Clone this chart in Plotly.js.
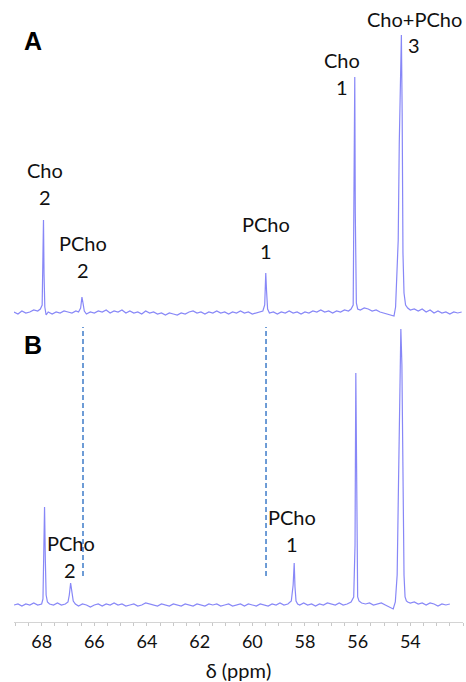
<!DOCTYPE html>
<html>
<head>
<meta charset="utf-8">
<script src="https://cdn.plot.ly/plotly-3.0.1.min.js"></script>
<style>html,body{margin:0;padding:0;background:#fff;}#chart{width:466px;height:682px;}</style>
</head>
<body>
<div id="chart"></div>
<script>
// Spectrum A (ppm, intensity)
var ppmA = [69.05,68.9,68.75,68.6,68.45,68.3,68.15,68.05,67.98,67.95,67.93,67.91,67.88,67.83,67.75,67.6,67.45,67.3,67.15,67.0,66.85,66.7,66.6,66.52,66.47,66.43,66.38,66.3,66.15,66.0,65.85,65.7,65.55,65.4,65.25,65.1,64.95,64.8,64.65,64.5,64.35,64.2,64.05,63.9,63.75,63.6,63.45,63.3,63.15,63.0,62.85,62.7,62.55,62.4,62.25,62.1,61.95,61.8,61.65,61.5,61.35,61.2,61.05,60.9,60.75,60.6,60.45,60.3,60.15,60.0,59.85,59.7,59.6,59.53,59.49,59.46,59.42,59.35,59.2,59.05,58.9,58.75,58.6,58.45,58.3,58.15,58.0,57.85,57.7,57.55,57.4,57.25,57.1,56.95,56.8,56.65,56.5,56.35,56.25,56.17,56.13,56.11,56.09,56.05,56.0,55.9,55.75,55.6,55.45,55.3,55.15,55.0,54.85,54.7,54.62,54.56,54.5,54.46,54.42,54.37,54.34,54.31,54.28,54.24,54.18,54.1,54.0,53.85,53.7,53.55,53.4,53.25,53.1,52.95,52.8,52.65,52.5,52.35,52.2,52.05];
var intA = [1,-1,2,0,1,3,2,4,8,60,93,40,6,-2,1,-1,1,0,2,1,0,2,1,5,16,10,2,-1,1,0,2,1,3,0,2,1,3,0,2,0,1,-1,2,0,1,-1,0,-2,0,-1,-2,0,-1,1,2,0,1,-1,1,0,2,0,1,-1,1,0,2,0,1,-1,0,1,2,8,40,22,4,0,1,-1,1,0,2,0,1,-1,1,0,2,1,3,1,2,0,2,1,3,2,4,8,120,236,100,10,4,3,5,4,2,3,1,0,-1,-2,-3,6,40,73,170,260,278,200,60,20,8,5,3,4,2,4,1,3,0,2,0,1,-1,1,0,1];

// Spectrum B (ppm, intensity)
var ppmB = [69.05,68.9,68.75,68.6,68.45,68.3,68.15,68.0,67.95,67.92,67.89,67.86,67.83,67.78,67.7,67.55,67.4,67.25,67.1,67.0,66.95,66.9,66.85,66.8,66.72,66.6,66.45,66.3,66.15,66.0,65.85,65.7,65.55,65.4,65.25,65.1,64.95,64.8,64.65,64.5,64.35,64.2,64.05,63.9,63.75,63.6,63.45,63.3,63.15,63.0,62.85,62.7,62.55,62.4,62.25,62.1,61.95,61.8,61.65,61.5,61.35,61.2,61.05,60.9,60.75,60.6,60.45,60.3,60.15,60.0,59.85,59.7,59.55,59.4,59.25,59.1,58.95,58.8,58.65,58.52,58.45,58.41,58.38,58.34,58.28,58.2,58.05,57.9,57.75,57.6,57.45,57.3,57.15,57.0,56.85,56.7,56.55,56.4,56.25,56.15,56.1,56.07,56.05,56.03,56.0,55.95,55.85,55.7,55.55,55.4,55.25,55.1,54.95,54.8,54.65,54.57,54.5,54.45,54.4,54.36,54.32,54.28,54.24,54.2,54.15,54.1,54.0,53.85,53.7,53.55,53.4,53.25,53.1,52.95,52.8,52.65,52.5,52.35,52.2,52.05];
var intB = [0,1,-1,1,0,2,0,1,6,60,98,45,10,3,1,0,2,0,1,3,10,22,14,4,1,-1,1,0,-2,0,1,-1,1,0,2,0,1,-1,0,1,-1,0,2,1,0,-1,1,0,-1,1,0,-1,1,0,-1,1,0,-1,1,0,1,-1,0,1,-1,0,1,-1,1,0,-1,1,0,-1,1,0,2,0,1,4,20,42,18,4,1,0,2,0,1,-1,1,0,2,1,0,2,0,1,3,8,60,232,150,40,8,4,2,1,2,0,1,2,0,-2,-4,3,30,120,230,276,240,120,30,8,4,3,2,3,1,2,0,2,1,-1,1,0,1];

var peakLabelsA = [
  {t:'Cho', x:67.87, y:143}, {t:'2', x:67.87, y:116},
  {t:'PCho', x:66.44, y:70}, {t:'2', x:66.44, y:43},
  {t:'PCho', x:59.48, y:89}, {t:'1', x:59.48, y:62},
  {t:'Cho', x:56.60, y:253}, {t:'1', x:56.60, y:226},
  {t:'Cho+PCho', x:53.84, y:294}, {t:'3', x:53.86, y:268}
];
var peakLabelsB = [
  {t:'PCho', x:66.88, y:62}, {t:'2', x:66.92, y:35},
  {t:'PCho', x:58.49, y:88}, {t:'1', x:58.49, y:61}
];
var dashPpm = [66.43, 59.48];
var tickVals = [68,66,64,62,60,58,56,54];
var tickText = ['68','66','64','62','60','58','56','54'];

var lineStyle = {color:'rgba(105,105,245,0.8)', width:1.2};
var traces = [
  {x:ppmA, y:intA, xaxis:'x', yaxis:'y', type:'scatter', mode:'lines', line:lineStyle, hoverinfo:'skip'},
  {x:ppmB, y:intB, xaxis:'x', yaxis:'y2', type:'scatter', mode:'lines', line:lineStyle, hoverinfo:'skip'}
];

var lblFont = {family:'Lato, sans-serif', size:20, color:'#111'};
var annotations = [];
peakLabelsA.forEach(function(p){
  annotations.push({text:p.t, x:p.x, y:p.y, xref:'x', yref:'y', showarrow:false, font:lblFont});
});
peakLabelsB.forEach(function(p){
  annotations.push({text:p.t, x:p.x, y:p.y, xref:'x', yref:'y2', showarrow:false, font:lblFont});
});
annotations.push({text:'<b>A</b>', x:22, y:25, xref:'paper', yref:'paper', showarrow:false, font:{family:'Liberation Sans, Arial', size:25, color:'#000'}});
annotations.push({text:'<b>B</b>', x:22, y:345, xref:'paper', yref:'paper', showarrow:false, font:{family:'Liberation Sans, Arial', size:25, color:'#000'}});

var L = {l:14, r:3, t:10, b:60};
var W = 466, H = 682;
var pw = W - L.l - L.r, ph = H - L.t - L.b;
annotations.forEach(function(a){
  if (a.xref === 'paper') {
    a.x = (a.x - L.l) / pw;
    a.y = 1 - (a.y - L.t) / ph;
  }
});

var shapes = dashPpm.map(function(p){
  return {type:'line', xref:'x', yref:'y2', x0:p, x1:p, y0:29, y1:278,
          line:{color:'#4a84cc', width:1.6, dash:'5px,3px'}};
});

var splitPaper = (H - L.b - 322) / ph;

var layout = {
  width:W, height:H,
  margin:L,
  paper_bgcolor:'#fff', plot_bgcolor:'#fff',
  showlegend:false,
  xaxis:{range:[69.05,52.0], anchor:'y2', tickvals:tickVals, ticktext:tickText,
         ticks:'outside', ticklen:3, tickcolor:'#c8c8c8', showline:true, linecolor:'#d4d4d4',
         showgrid:false, zeroline:false,
         minor:{dtick:0.5, tick0:0, ticks:'outside', ticklen:3, tickcolor:'#c8c8c8', showgrid:false},
         tickfont:{family:'Lato, sans-serif', size:18, color:'#111'},
         title:{text:'δ (ppm)', font:{family:'Lato, sans-serif', size:20, color:'#111'}, standoff:14}},
  yaxis:{domain:[splitPaper,1], range:[-9,303], visible:false},
  yaxis2:{domain:[0,splitPaper], range:[-17,283], visible:false},
  annotations:annotations,
  shapes:shapes
};

Plotly.newPlot('chart', traces, layout, {staticPlot:true, displayModeBar:false});
</script>
</body>
</html>
